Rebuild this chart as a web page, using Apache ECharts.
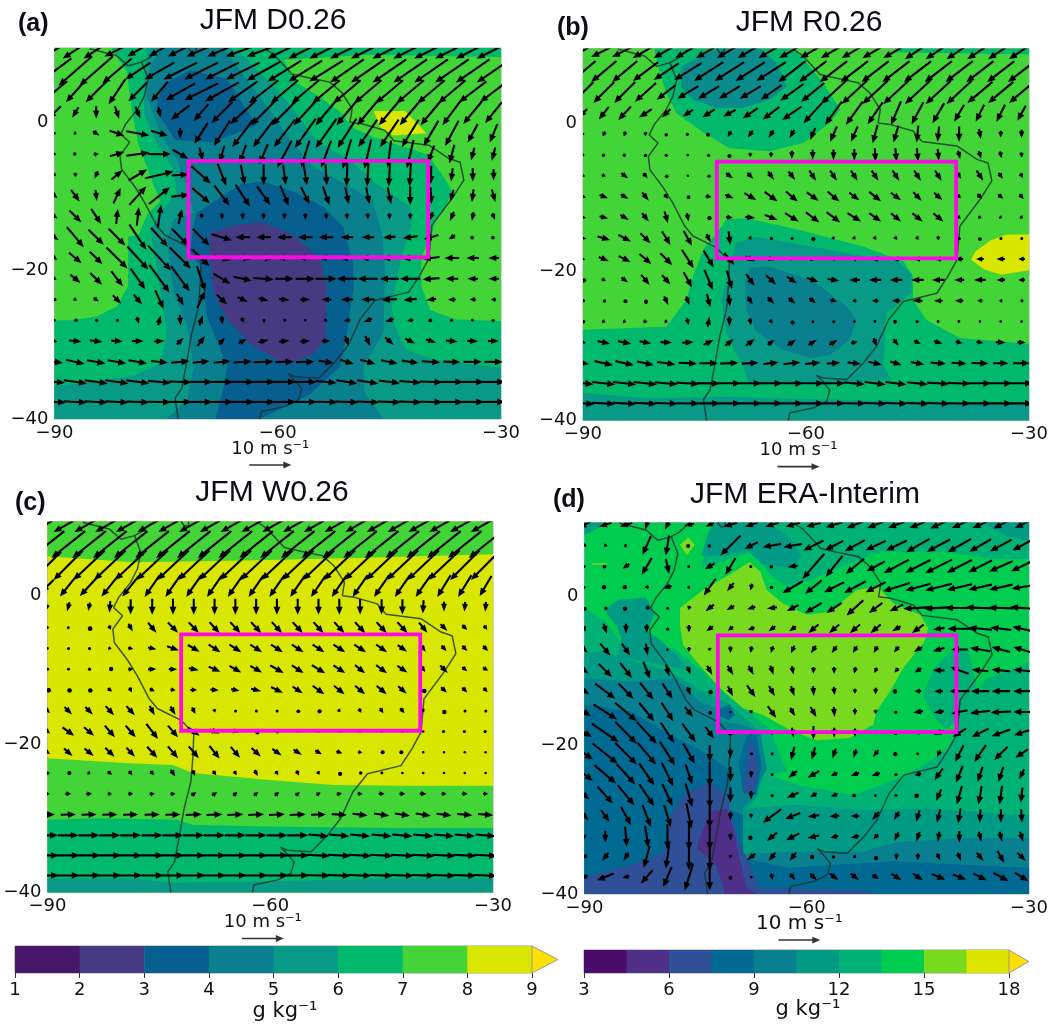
<!DOCTYPE html>
<html><head><meta charset="utf-8">
<style>html,body{margin:0;padding:0;background:#fff}#c{width:1052px;height:1026px;filter:blur(0.5px)}</style>
<script src="https://cdn.jsdelivr.net/npm/echarts@6/dist/echarts.min.js"></script>
</head><body><div id="c"></div>
<script>
// ---- axes / wind grid ----
const windLons=[-90,-87.2,-84.4,-81.6,-78.8,-75.9,-73.1,-70.3,-67.5,-64.7,-61.9,-59.1,-56.3,-53.5,-50.7,-47.9,-45,-42.2,-39.4,-36.6,-33.8,-31];
const windLats=[9.7,6.9,4.1,1.3,-1.5,-4.3,-7.1,-9.9,-12.7,-15.5,-18.3,-21.1,-23.9,-26.7,-29.5,-32.3,-35,-37.7];
const windKeySpeed=10;
const focusBox=[[-72,-5.2],[-39.8,-5.2],[-39.8,-18.2],[-72,-18.2],[-72,-5.2]];
const domain=[[-90,10],[-30,10],[-30,-40],[-90,-40]];
// ---- colorbars ----
const barTicksA=[1,2,3,4,5,6,7,8,9];
const barColorsA=['#47186a','#463a82','#075f90','#0a7f8e','#089a86','#00b96c','#43d437','#d8e600'];
const barTicksB=[3,4.5,6,7.5,9,10.5,12,13.5,15,16.5,18];
const barColorsB=['#4a0c6b','#4f2f88','#2f5096','#006a93','#088090','#009a85','#00b176','#00cc50','#78da1e','#dde400'];
const overColor='#fde000';
// ---- coastline (lon,lat) ----
const coastWest=[[-85.3,9.9],[-83.3,9.4],[-81.7,9],[-80.1,7.6],[-78.3,8.1],[-77.4,5.8],[-77.9,3.6],[-78.8,1.8],[-80.4,-.2],[-81.1,-1.6],[-79.9,-2.7],[-81.2,-4.5],[-81,-6.3],[-79.2,-8.7],[-77.9,-10.8],[-76.3,-13.9],[-75.2,-15.2],[-72,-16.8],[-70.3,-18.6],[-70.4,-21.5],[-70.7,-25.1],[-71.6,-28.7],[-72.3,-32.7],[-72.9,-35.9],[-73.8,-37.2],[-73.4,-39.8],[-73.4,-40]];
const coastEast=[[-62.4,-40],[-62.4,-39.8],[-62.2,-39],[-59,-38.3],[-57.2,-37.4],[-56.8,-35.9],[-57.7,-34.8],[-58.6,-33.9],[-57.7,-34.3],[-54.5,-34.5],[-52.3,-32.3],[-50.5,-30],[-48.9,-26.5],[-46.9,-24],[-42.4,-22.9],[-40.9,-20.6],[-39.7,-18.4],[-39.3,-13.9],[-36.6,-10.3],[-35,-7.8],[-35.5,-5.4],[-37,-4.9],[-39.7,-3.1],[-44.4,-2.5],[-45.6,-1.1],[-48.7,-.2],[-50.3,0],[-50,1.8],[-51.4,4],[-53,5.4],[-55.9,6],[-58.1,6.5],[-60.4,9],[-61.7,9.9]];
const coastNorth=[[-78.3,8.1],[-77.2,8.7],[-76,9.8]];
const coastMaracaibo=[[-72,10],[-71.6,9.4],[-71,9.5],[-71,10]];
// ---- panel (a) contour regions ----
const aBelow7=[[-59.2,8.4],[-57.7,5.5],[-54.5,3.5],[-51.8,1.5],[-49.8,-.8],[-46.9,-2.1],[-42.4,-3.5],[-39.8,-4.4],[-37.5,-7.7],[-36.6,-9.3],[-37.5,-11.6],[-38.9,-13.4],[-39.3,-15.2],[-40.7,-18.1],[-40.7,-22.1],[-39.5,-25.3],[-36,-26.6],[-30,-26.8],[-30,-40],[-90,-40],[-90,-26.7],[-87.9,-26.7],[-84.3,-26.2],[-81.6,-24.8],[-80.1,-22.1],[-80.1,-15.4],[-78.7,-15.2],[-77.6,-12.5],[-75.8,-10.7],[-76.7,-8.4],[-78.7,-3],[-79.6,1.5],[-80.3,6.9],[-82.3,9.8],[-82.3,10],[-30,10],[-30,8.8],[-48,9.1]];
const aBelow6=[[-77.6,10],[-77.6,8.9],[-78,5.3],[-78,1.2],[-76.3,-2.8],[-74,-6.4],[-73.6,-9.5],[-75.8,-12.2],[-77.1,-14.5],[-75.8,-22.6],[-74.9,-28.4],[-75.8,-32.5],[-79.4,-34.2],[-90,-35.6],[-90,-40],[-30,-40],[-30,-33.1],[-39.1,-32],[-42.7,-30.7],[-44,-28],[-44.7,-25.3],[-44.2,-21.9],[-43.1,-17.2],[-41.9,-13.5],[-42.2,-11.4],[-46.9,-8.2],[-50.3,-5.1],[-54.6,-2.7],[-58.3,2.3],[-62.1,6.4],[-64.4,8.8],[-66.4,10]];
const aBelow5=[[-75.5,10],[-77.1,7.8],[-77.6,3.5],[-75.8,-1.5],[-73.6,-5],[-72.2,-8.6],[-71.3,-12.2],[-74,-13.1],[-74.9,-15.8],[-74,-23],[-72.2,-27.5],[-71.3,-32.9],[-72.2,-37.4],[-74.9,-40],[-45.8,-40],[-48.3,-36.5],[-48.5,-32.9],[-45.8,-28.4],[-45.6,-19.9],[-46,-14.9],[-47.3,-10.5],[-51.2,-8.2],[-55.3,-6],[-58.3,-2.4],[-62.1,3],[-65.1,7],[-67.1,10]];
const aBelow4Top=[[-66.8,5.7],[-62.8,-.4],[-68.7,-2.7],[-73.8,-2.4],[-76.2,1.4],[-76.2,3],[-74.9,5.4],[-71.8,7],[-67.3,6]];
const aBelow4Low=[[-70.9,-12.2],[-65,-8.4],[-61.9,-8],[-57.5,-9.5],[-53.9,-11.4],[-51.2,-14.1],[-49.9,-19],[-49.8,-22.1],[-50.7,-28.4],[-51.6,-32.9],[-55.7,-36.7],[-62.4,-40],[-68.4,-40],[-67.3,-36],[-66.8,-32.9],[-69.5,-26.2],[-70.4,-19.4],[-71.8,-17.6],[-71.3,-14]];
const aBelow3=[[-69.1,-14.9],[-65.5,-13.8],[-62.1,-13.5],[-57.9,-15.2],[-54.3,-18.5],[-53.4,-22.1],[-53.6,-28.9],[-55,-31.1],[-58.8,-32.7],[-63.3,-30.2],[-66.8,-26.6],[-68.6,-23],[-69.1,-18.5]];
const aAbove8=[[-47.1,1.5],[-42.9,1.5],[-41.3,-.1],[-40,-1.5],[-44.5,-1.8],[-46.3,-.6]];
// ---- panel (b) contour regions ----
const bBelow7Low=[[-90,-27.8],[-78.8,-27.4],[-76.1,-23.8],[-75.2,-20.6],[-73.8,-17],[-71.6,-14.3],[-70.7,-13],[-68,-12.8],[-61.3,-14.3],[-52.3,-16.6],[-46.9,-18.6],[-45.6,-20.6],[-45.6,-23.8],[-43.8,-26.5],[-39.3,-28.9],[-30,-29.7],[-30,-40],[-90,-40]];
const bBelow7Top=[[-80.4,10],[-79.9,7.6],[-78.8,4],[-77.4,1.3],[-73.8,-1.3],[-70.3,-3.4],[-64.9,-3.8],[-60.4,-2.7],[-56.8,0],[-55.4,1.8],[-57.7,5.4],[-59.9,8.1],[-61.7,10]];
const bBelow7Strip=[[-48,10],[-48,9.5],[-30,9.2],[-30,10]];
const bBelow6Top=[[-72,10],[-76.8,7.6],[-76.8,4.9],[-75.2,3.1],[-72,2],[-68.5,2],[-64.9,3.1],[-62.6,4.9],[-64,8.1],[-65.8,9.6],[-66.2,10]];
const bBelow6Low=[[-71.4,-23.8],[-70.3,-19.3],[-69.4,-16.1],[-66.7,-15.3],[-60.4,-16.4],[-52.3,-17.9],[-47.8,-18.6],[-45.8,-20.2],[-45.8,-22.9],[-49.2,-25.6],[-49.6,-32.7],[-48.5,-34.5],[-52.3,-34.8],[-67.6,-35.2],[-68.5,-32.7],[-70.7,-28.3]];
const bBelow6Strip=[[-90,-36.3],[-81.5,-37],[-70.3,-36.8],[-64.9,-37],[-30,-37.7],[-30,-40],[-90,-40]];
const bBelow5=[[-68.2,-21.5],[-67.6,-19.5],[-64.9,-19.3],[-59,-21.3],[-54.5,-24.7],[-53.2,-26.5],[-54.1,-29.1],[-56.8,-31.2],[-59.5,-31.6],[-63.5,-30.3],[-66.7,-28],[-68,-25.1]];
const bAbove8=[[-30,-15],[-33,-15],[-35.2,-15.8],[-37.2,-17.3],[-37.8,-18.4],[-36,-19.7],[-33.7,-20.4],[-30,-19.8]];
// ---- panel (c) contour regions ----
const cBelow8Top=[[-90,10],[-90,5.3],[-78.5,4.5],[-65,4.7],[-47,5.1],[-30,5.6],[-30,10]];
const cBelow8Low=[[-90,-21.9],[-78.5,-22.6],[-73.1,-22.8],[-70.4,-23.9],[-60.5,-24.8],[-51.5,-25.5],[-42.5,-25.6],[-30,-25.6],[-30,-40],[-90,-40]];
const cBelow7=[[-90,-30.2],[-83,-30],[-72.6,-30.2],[-70.4,-30.9],[-60.5,-31.1],[-42.5,-31.3],[-30,-31.3],[-30,-40],[-90,-40]];
const cBelow6=[[-90,-38.1],[-78.5,-38.1],[-73.1,-38.7],[-60.5,-38.5],[-42.5,-38.1],[-30,-38.1],[-30,-40],[-90,-40]];
// ---- panel (d) contour regions ----
const dMedLow=[[-90,-1.5],[-87.2,-3.3],[-85.2,-6],[-82,-7.4],[-78,-6.9],[-74,-10.1],[-70.8,-13.2],[-68.1,-15.4],[-65,-17.7],[-62.7,-23.5],[-65,-24],[-61.4,-25.3],[-53.7,-26.7],[-50.1,-25.4],[-47.9,-24.5],[-44.3,-22.7],[-41.1,-20.5],[-40,-18.7],[-39.3,-16.4],[-37,-12.8],[-35.7,-11],[-30,-8.8],[-30,-40],[-90,-40]];
const dMedEast=[[-44.3,-13.3],[-42.9,-9.7],[-40.4,-7.2],[-38.2,-7],[-37.7,-9.2],[-37,-12.8],[-37.5,-15.5],[-39.3,-16.4],[-41.1,-17.8],[-42.7,-16.4]];
const dMedTop=[[-74.2,3.9],[-72.8,10],[-30,10],[-30,5.1],[-34.8,5.1],[-41.1,6],[-50.1,6],[-52.4,5.2],[-56.9,3.4],[-60,2.1],[-62.7,1.4],[-65,3],[-66.3,5.2],[-67.4,6.1],[-70.8,5]];
const dTealLow=[[-90,-7.7],[-87.3,-7.3],[-84.2,-8.4],[-78.4,-10.1],[-74.9,-12.3],[-70.4,-14.5],[-66.8,-17.7],[-65.9,-24],[-66.8,-27.1],[-68.1,-28.5],[-61.4,-28],[-52.4,-28.7],[-43.4,-28.5],[-30,-29.4],[-30,-40],[-90,-40]];
const dTealTop=[[-74.2,5.5],[-73.3,8.7],[-72.2,10],[-65,10],[-62.3,7.9],[-60.7,5.6],[-62,3.9],[-65.9,4.3],[-68.1,6.3],[-70.8,5.6]];
const dTealWest=[[-87.3,-1.8],[-85.5,-.4],[-81.7,-.1],[-80.5,-2.1],[-81.5,-4.6],[-79.9,-5.7],[-77.4,-8],[-76,-9.8],[-78.8,-9.3],[-85.5,-8],[-85,-5.7],[-85.7,-3.9]];
const dTealNE=[[-36.2,10],[-30,10],[-30,7.5],[-33,8.2]];
const dTealCorner=[[-90,8.4],[-88,9.3],[-87.7,10],[-90,10]];
const dDeep=[[-90,-11],[-83.8,-11.4],[-77.6,-11],[-74.4,-14.1],[-72.2,-15],[-71.3,-16.8],[-69,-17.2],[-66.3,-18.1],[-65.4,-23.1],[-67.2,-26.7],[-68.6,-28.5],[-68.6,-34.7],[-62.3,-34.3],[-52.4,-34.3],[-47.9,-33],[-38.9,-32.5],[-30,-32.5],[-30,-40],[-90,-40]];
const dBlue=[[-90,-14.5],[-83.8,-15.4],[-77.6,-19],[-73.5,-21.1],[-70.8,-23.1],[-69.9,-26.7],[-70.8,-28.5],[-68.6,-29.4],[-68.6,-35.2],[-62.3,-36.5],[-56.9,-36.1],[-47.9,-35.6],[-30,-36.5],[-30,-40],[-90,-40]];
const dBlueBlobA=[[-71.7,-15],[-70.4,-14.5],[-69.7,-15.9],[-70.6,-16.6],[-71.7,-16.1]];
const dBlueBlobB=[[-69.2,-22.2],[-68.1,-18.6],[-66.8,-18.6],[-66.1,-22.6],[-66.8,-26.7],[-68.6,-26.4]];
const dIndigo=[[-90,-37.7],[-83.8,-36.1],[-79.3,-34.3],[-78.4,-29.4],[-76.7,-26.7],[-73.1,-24.9],[-70.8,-26.7],[-70.4,-28.5],[-69.2,-33],[-68.1,-35.2],[-66.3,-39.2],[-52.4,-39.5],[-51,-40],[-90,-40]];
const dIndigoBlob=[[-68.6,-26.2],[-67.7,-19.3],[-67.2,-19.5],[-66.5,-23.1],[-67.2,-26.2]];
const dPurple=[[-74.9,-33.8],[-73.1,-28.9],[-70.8,-28.5],[-69.9,-31.2],[-69.2,-34.7],[-68.1,-39.2],[-66.8,-40],[-71,-40],[-72.2,-36.1]];
const dLime=[[-77.1,-1.5],[-74,.9],[-70.4,3],[-67.7,4.7],[-66.3,3.4],[-65.4,.9],[-63.2,-.9],[-60,-2.4],[-56.9,-2],[-53.3,.9],[-50.4,1.4],[-48.3,-.9],[-44.7,-2.4],[-43.6,-4.2],[-44.1,-6],[-47,-9.6],[-48.8,-12.8],[-50.6,-15.4],[-51,-17.2],[-54.2,-19],[-58.7,-19.3],[-62.3,-17.9],[-65.9,-15.9],[-68.6,-15],[-71.7,-12.3],[-74.9,-8.7],[-76.7,-6.5],[-77.1,-3.8]];
const dLimeDiamond=[[-77.1,7],[-76,8],[-75.1,7],[-76.2,5.6]];
const dLimeSliver=[[-89,4.5],[-87,4.5],[-87,4.3],[-89,4.3]];
// ---- wind components (m/s), rows north to south, columns west to east ----
const uA=[
[-5,-6,-6,-6,-5,-5,-6,-7,-7,-8,-8,-8,-8,-8,-8,-8,-8,-8,-8,-8,-8,-8],
[-8,-8,-8,-7,-6,-7,-8,-8,-8,-8,-8,-8,-8,-8,-8,-8,-8,-8,-8,-8,-8,-8],
[-6,-4.5,-5,-4,-4.5,-4,-7,-8,-8,-7,-7,-6.5,-6.5,-6.5,-6.5,-6.5,-6.5,-6.5,-6.5,-6.5,-6.5,-6.5],
[-3,-1.5,0,1,1.2,.5,-4.4,-3.5,-5,-6,-6,-6,-5.5,-5,-5,-5,-5,-5,-5,-4.5,-4.5,-4],
[0,.6,1.5,3.5,5.5,4,0,-3.2,-3.8,-5,-5,-5,-5,-5,-4.5,-4.5,-4.4,-4,-3.5,-3.2,-2.4,-1.8],
[0,-.3,1.2,3.4,5.5,5.5,3.7,.8,-1.2,-1.5,-2,-3.5,-2,-2.4,-2,-1.6,-.8,-1.6,-1.5,-1.2,-.8,-.8],
[.6,0,-.8,2.6,4.4,6.7,4,4.6,2,1,0,.6,.8,.3,-.2,-.3,-.3,-.3,-.1,-.4,0,0],
[1.4,2,.3,1.7,4,5,4.4,4.2,3.6,3.4,3.2,2,2,1.6,.8,.8,.8,0,.2,-.8,-.4,.8],
[1.4,2.8,2.4,.4,.5,.8,.8,.3,0,0,0,0,0,0,0,0,0,0,-.8,-1,-.4,.6],
[2,4,3.6,4,4,4,4,4,4.8,-3.5,-3.5,-3.5,-3.5,-3.5,-3,-3,-3,-3.5,-3.5,-1.5,-.3,-.3],
[1.2,3,3,5,5,5.5,5,4,4,4,4.5,-3.5,-3.5,-3.5,-3.5,-3.5,-3.5,-3.8,-4,-3.5,-3,-2.5],
[1,2.4,2.8,2.8,3.5,4.8,4.4,2,4,4.4,4.8,4.4,4.6,5,-4.8,-4.8,-4.5,-4.8,-4,-3,-2.5,-2.5],
[.2,.8,1.2,2,2,2,1.6,1.8,2.4,2.4,2.4,2.4,2.4,-2.4,-3,-3.2,-3.6,-3.2,-2.4,-1.8,-1.5,-1.2],
[0,.3,.2,.2,.5,.6,.2,.8,.2,.7,.2,.1,0,-.3,-1.5,-2,-2,-1.4,-.4,-.2,-.1,-.2],
[1.5,3,3,2.8,2.8,2.4,1.6,1.8,1.4,2,2.4,2.4,2.4,2,.8,1.2,2,2.4,2.4,2.8,2.6,2.6],
[4,4.4,4.4,4.4,4.4,4,4.4,4,4,4.4,4.8,4.4,4.4,3.6,3.2,3.6,4,4,4.4,4,4.4,4.4],
[5,5.5,5.5,5.5,5.5,5.5,5.5,5.5,5.5,5.5,5.5,5.5,5.5,5,5,5,5,5.2,5.5,5.5,5.5,5.5],
[5.5,5.5,5.5,5.5,5.5,5.5,5.5,5.5,5.5,5.5,5.5,5.5,5.5,5.5,5.5,5.5,5.5,5.5,5.5,5.5,5.5,5.5]];
const vA=[
[-3,-4,-4,-3,-3,-3,-3,-3,-3,-3,-3,-4,-4,-4,-4,-4,-4,-4,-4,-4,-4,-4],
[-6,-7,-7,-6,-4,-4,-4,-4,-4,-4,-4.5,-5,-5,-5,-5.5,-5.5,-5.5,-5.5,-5.5,-5.5,-5.5,-5.5],
[-5,-5,-5,-6,-4.5,-4.8,-4,-4,-4.5,-5,-5.5,-5.5,-5.5,-5.5,-5.5,-5.5,-5.5,-5.5,-5.5,-5.5,-5,-5],
[-3,-2.5,-3,-3,-2.8,-2.5,-3.4,-4,-5,-5.5,-6,-6,-6,-6,-6,-6,-6,-6,-6,-6,-5.5,-5],
[0,-.4,-1,-1.2,-1,-1.2,-2.6,-5,-6,-6.5,-6.5,-6.5,-7,-7,-7,-6.5,-6.5,-6.5,-6,-6,-4.4,-4.4],
[0,0,.2,1,.8,0,-2.2,-3.2,-4,-4.4,-4.8,-6.5,-6.4,-6.4,-7,-7,-6.4,-6.7,-4,-4.4,-3,-3.2],
[-.6,-1,-1.7,2.2,2.6,1.6,.3,-4.1,-5.2,-4.8,-5,-4.8,-5,-5,-5.5,-5.5,-5.5,-5.5,-4.4,-3.2,-3.2,-2.8],
[-1.2,-2.8,-2.6,3.7,4.4,4,.5,-3.6,-4.8,-5.2,-4.4,-4.8,-4,-4.4,-4,-4,-4,-4.4,-4,-2.8,-3,-3],
[-1,-2.8,-3.6,3.6,4.4,5.6,3.6,.4,-1.5,-1.5,-1.5,-1.5,-1.5,-1.5,-1.5,-1.5,-1.5,-1.5,-2,-2.2,-2,-1.6],
[-1.5,-4.8,-3.6,-4,-6,-4.5,-4,-4,-1.4,0,0,0,0,0,0,0,-.3,-.5,-1,-1,-.2,-.2],
[-1,-2.5,-3,-5,-5.5,-6,-5,-4,-1.2,-.5,-.3,0,0,0,0,0,-.2,-.3,-.5,0,0,0],
[-.5,-2,-2.8,-3.6,-5,-6.6,-6,-6,-2.4,-1,-.4,0,0,0,0,0,0,0,-.3,0,0,0],
[0,-.4,-.8,-2,-2.4,-4.4,-2.8,4,-2.4,-1.2,-.6,-.2,0,0,0,0,-.2,-.3,-.3,0,0,0],
[0,0,0,0,-1.6,2.4,-2.6,2.4,-2,-1.2,-.2,0,0,0,-.3,-.8,-.6,-.2,0,0,0,0],
[-.3,-.3,-.4,-.2,0,.2,1.6,2.4,1.6,1,.6,.3,.2,0,-2.4,-2.4,-1.8,-1.2,-.8,-.3,-.1,0],
[-.5,-1,-.8,-.8,-.8,-.4,.4,.4,.4,.3,.2,.1,.1,-.5,-1,-1,-.8,-.6,-.3,-.1,0,0],
[-.4,-.8,-.8,-.8,-.8,-.5,-.2,0,0,0,0,0,0,-.5,-.8,-.8,-.6,-.4,-.2,0,0,0],
[-.3,-.3,-.3,-.3,-.2,-.1,0,0,0,0,0,0,0,-.1,-.2,-.2,-.2,-.2,-.1,0,0,0]];
const uB=[
[-5,-6,-6,-6,-6,-6,-6,-6,-6,-6,-6,-6,-6,-6,-6,-6,-6,-6,-6,-6,-6,-6],
[-6,-6,-6,-6,-6,-6.5,-7,-7,-7,-7,-6.5,-6.5,-6.5,-6.5,-6.5,-6.5,-6.5,-6.5,-6.5,-6.5,-6.5,-6.5],
[-5,-5,-5,-5,-4.5,-5,-5,-5,-5,-5,-5.5,-5.5,-6,-6,-6,-6,-6,-6,-6,-6,-6,-6],
[-2,-2.4,-3,-3,-2,-2.4,-3,-3,-3.6,-4,-4.6,-4.4,-4,-4,-3.6,-2.4,-2.8,-2.8,-2.4,-2,-2,-2],
[0,-.6,-.4,0,0,-.2,-.3,-.8,-1.2,-1.2,-1.2,-1.2,-1.6,-1.6,-1.2,-1.2,-.4,-.4,0,.4,0,0],
[0,-.2,-.2,0,0,0,0,0,0,0,0,0,0,0,.2,.3,.3,.3,.5,.6,.4,.2],
[1,1,1.6,1,.2,0,.2,1.6,1.4,1.4,1.6,1.6,1.6,1.6,1.6,1.6,1.6,1.6,1,1.6,1,.6],
[1.5,2,1.8,1.6,.8,.3,1.4,2,2.8,3,2.8,2.8,2.8,2.4,2.8,2.4,2,2,.8,1.2,1.2,1],
[1.4,2,2,1.6,.8,.4,.4,1.6,2.4,3,3.2,3.2,3.2,3.2,2.8,2.4,2.4,2.4,.8,.8,.6,.6],
[1.6,3,3,2.4,2,2,1,.4,.4,.2,.1,.3,.5,.6,.6,.6,.5,.2,.1,0,.1,.1],
[1,2.4,2.8,2.8,2.8,2.8,2.4,2.4,2.4,2,.8,-.5,-1,-1.4,-2,-2,-2,-2,-2,-1.8,-2,-1.6],
[.5,1,1.6,2,2,2,2,1.2,2,2.4,2.4,2.8,2.8,-2.6,-3,-3,-3,-3,-2.4,-2.8,-2,-1.6],
[.2,.3,.4,.3,1,.8,.8,.2,1.2,1.6,1.6,1.6,1.6,-1,-1.6,-2,-2.4,-2,-2,-1.2,-.8,-.8],
[.3,.8,.8,1,.8,.4,.4,0,.4,.5,.3,.1,.1,0,-.1,-.4,-.2,-.1,-.1,0,0,0],
[1.5,3,3.2,2.8,2.8,2.8,2.4,2,2.2,1.6,2,2,2,1.6,.8,1.2,1.6,2,1.6,1.6,2.4,2],
[3,4.4,4.4,4,4.4,4.4,4.4,4.4,4,3.6,4,3.6,3.2,3.2,3.2,2.8,3.2,3.6,3.6,4,3.6,4],
[5,5.5,5.5,5.5,5.5,5.5,5.5,5.5,5.5,5.5,5.5,5.5,5.5,5,5,5,5,5.2,5.5,5.5,5.5,5.5],
[5.5,5.5,5.5,5.5,5.5,5.5,5.5,5.5,5.5,5.5,5.5,5.5,5.5,5.5,5.5,5.5,5.5,5.5,5.5,5.5,5.5,5.5]];
const vB=[
[-3,-3,-3,-3.5,-3.5,-3.5,-3.5,-3.5,-3.5,-3.5,-3.5,-3.5,-3.5,-3.5,-3.5,-3.5,-4,-4,-4,-4,-4,-4],
[-5,-5,-5,-4.5,-4,-4,-4.5,-4.5,-4.5,-4.5,-5,-5,-5,-5,-5,-5,-5,-5,-5,-5,-5,-5],
[-5,-5,-5,-4.5,-3.5,-3,-3,-3,-3,-3.5,-4,-4.5,-5.5,-5.5,-5.5,-5.5,-5.5,-5.5,-5.5,-5,-5,-5],
[-2,-3,-3.2,-2,-2,-1.6,-2,-1.6,-2.4,-3,-3.2,-4.8,-5.5,-5.5,-5.2,-5.6,-5.2,-4.8,-4,-4,-4,-3.6],
[0,-1.2,-1.2,-1,-.3,-.1,-.3,-1.4,-1.6,-1.8,-2,-2.8,-3.6,-3.6,-4.4,-4,-4,-3.6,-3.6,-2.5,-1.6,-2],
[0,-.2,-.2,-.3,-.2,-.1,-.2,-.5,-1,-1.2,-2,-2.4,-2.6,-2.8,-3.2,-3.2,-3.2,-2.8,-2,-1.8,-1.6,-1.2],
[-.3,-.3,-1.2,-1.2,-.3,0,-.2,-1.2,-1.4,-2,-2,-2.4,-2.4,-2.4,-2.4,-2.4,-2.4,-2.4,-1.6,-2.4,-1.4,-1.2],
[-.4,-.8,-1,-2,-1.2,-.3,-.2,-.8,-1.6,-2.2,-2.4,-2,-2.4,-1.8,-2.2,-1.8,-2,-1.8,-.8,-1.2,-1,-1.2],
[-.3,-.5,-1.2,-2,-2.8,-2,-.4,-.2,-.3,-1.2,-2,-2.4,-2.4,-2,-2,-2,-2,-2,-.5,-.3,-.4,-.5],
[-.3,-.8,-1.6,-2.4,-3.2,-3.6,-2,-3.2,-.8,-.1,-.1,-.5,-.6,-.6,-.7,-.8,-.8,-1,-.1,-.4,-.1,-.1],
[-.3,-1,-1.4,-2.4,-2.8,-4.4,-4,-2.8,-1.2,-.6,-.3,0,0,0,0,0,0,0,0,0,0,0],
[-.2,-.5,-1.1,-2.4,-2.2,-3.6,-4.8,-4.4,-2.8,-2.2,-1.6,-1,-.4,0,0,0,0,0,0,0,0,0],
[0,-.1,-.2,-.5,-2,-2,-3.2,-2.8,-1.8,-1.6,-1.4,-1.2,-.5,0,0,0,0,0,0,0,0,0],
[-.1,-.3,-.2,-.1,-.2,-1.6,2.4,-2.4,-1.6,-1,-.5,-.1,-.1,0,0,-.1,0,0,0,0,0,0],
[-.3,-.6,-.6,-.5,-.1,.2,1.2,1.6,1.6,1.2,1.4,1.2,1.2,.3,-2,-1.6,-.8,-.6,-.4,-.3,-.1,0],
[-.5,-1,-1,-.8,-.6,-.2,0,.2,.2,.4,.5,.4,.2,-.4,-.7,-.8,-.6,-.3,-.2,-.1,0,0],
[-.4,-.6,-.6,-.6,-.5,-.3,-.1,0,0,0,0,0,0,-.4,-.6,-.6,-.5,-.3,-.2,0,0,0],
[-.3,-.3,-.3,-.3,-.2,-.1,0,0,0,0,0,0,0,-.1,-.2,-.2,-.2,-.2,-.1,0,0,0]];
const uC=[
[-6,-7,-7,-7,-7,-7,-7,-7,-7,-7,-7,-7,-7,-7,-7,-7,-7,-7,-7,-7,-7,-7],
[-8,-8,-8,-8,-8,-8,-8,-8,-8,-8,-8,-8,-8,-8,-8,-8,-8,-8,-8,-8,-8,-8],
[-6.5,-7,-7.5,-7.5,-7.5,-7.5,-7.5,-7.5,-7.5,-7.5,-7.5,-7.5,-7.5,-7.5,-7.5,-7.5,-7.5,-7.5,-7.5,-7.5,-7,-7],
[-3,-4,-4.4,-4,-4,-3.6,-3.6,-3.6,-3.6,-3.6,-3.6,-3.6,-3.6,-3.6,-3.6,-3.6,-3.6,-3.6,-3.6,-3.2,-3.2,-2.8],
[0,-.6,-.4,-.2,0,0,0,0,0,0,0,0,0,0,0,0,0,0,-.2,0,-.2,-.2],
[0,0,.5,.5,1,2,2.4,2.4,2.4,2.4,2.4,2.4,2.4,2.4,2.4,2.4,2.4,2.4,2,1.6,1.2,.8],
[0,.1,.2,.8,1.2,2,2.8,2.8,2.8,2.8,2.8,2.8,2.8,2.8,2.8,2.8,2.6,2.2,1.2,1.2,1.2,1.2],
[.1,.1,.2,.6,1.2,2,2,2.4,2.8,2.8,2.8,3.2,2.8,3.2,2.8,2.4,2.6,2.4,1,1.8,1.2,1.2],
[.6,.6,.6,1,.6,1.2,1.2,1.6,2,2,2.4,2.8,2.4,2.8,2.5,2.4,2.4,2,.5,1.4,1.2,1],
[1.2,1.8,1.8,2,2,1.2,1.2,.8,.3,.1,.1,.1,.3,.5,.6,.6,.8,1,.5,.2,.1,.1],
[1.2,2.8,2.4,2.4,2.4,2.8,2.4,2.8,2.4,1.6,.6,.3,0,0,0,0,0,0,0,-.2,-.2,-.2],
[1.2,2,2.2,2.2,2,2.4,2.4,2.4,2.4,2.2,2.2,2.2,2,1.6,1.4,1,.5,-.5,0,0,0,0],
[.2,.5,.7,1,.8,.8,1,.6,.8,.6,.8,.6,.6,.5,.4,.3,.1,0,0,0,0,0],
[1,1.4,1.4,1,1.2,1.2,1.2,1.2,1.2,1,1,1,1,1,1.2,1.2,1.4,1.4,1.6,1.2,1.4,1.2],
[3.6,3.6,3.6,3.6,3.6,3.6,3.6,3.8,3.8,3.8,3.8,3.8,3.8,3.6,3.6,3.6,3.6,3.6,3.6,3.6,3.6,3.6],
[5,5,5,5,5,5,5,5,5,5,5,5,5,4.8,4.8,4.8,4.8,4.8,4.8,4.8,4.8,4.8],
[5.5,5.5,5.5,5.5,5.5,5.5,5.5,5.5,5.5,5.5,5.5,5.5,5.5,5.5,5.5,5.5,5.5,5.5,5.5,5.5,5.5,5.5],
[5.5,5.5,5.5,5.5,5.5,5.5,5.5,5.5,5.5,5.5,5.5,5.5,5.5,5.5,5.5,5.5,5.5,5.5,5.5,5.5,5.5,5.5]];
const vC=[
[-4,-4,-4,-4,-4,-4,-4,-4,-4,-4,-4,-4,-4,-4,-4,-4,-4,-4,-4,-4,-4,-4],
[-6.4,-6.4,-6.4,-6.4,-6.4,-6.4,-6.4,-6.4,-6.4,-6.4,-6.4,-6.4,-6.4,-6.4,-6.4,-6.4,-6.4,-6.4,-6.4,-6.4,-6.4,-6.4],
[-6.5,-7,-7,-7,-7,-7,-7,-7,-7,-7,-7,-7,-7,-7,-7,-7,-7,-7,-7,-7,-7,-7],
[-3,-5,-4.8,-5,-5,-5.2,-5.2,-5.2,-5.2,-5.2,-5.2,-5.2,-5.2,-5.2,-5.2,-5.2,-5.2,-5.2,-5.2,-5.2,-5.2,-4.8],
[-1,-2.2,-2,-2.8,-3.6,-3.8,-3.8,-3.8,-3.8,-3.8,-3.8,-3.8,-3.8,-3.8,-3.8,-3.6,-3.6,-3.6,-3.2,-2.4,-2.4,-2.4],
[0,-.1,-.5,-1,-1.8,-2.4,-2.4,-2.5,-2.6,-2.6,-2.6,-2.6,-2.6,-2.6,-2.6,-2.6,-2.6,-2.6,-2.4,-1.6,-1.2,-1],
[0,-.1,-.1,-.2,-.3,-.4,-1,-1.6,-1.8,-1.8,-1.8,-1.8,-1.8,-1.8,-1.8,-1.8,-1.8,-1.6,-1.6,-1.4,-1.2,-1.2],
[0,0,0,.1,.2,.1,0,-.5,-1.2,-1.6,-1.6,-1.8,-1.8,-1.9,-1.8,-1.9,-1.9,-1.6,-1.4,-1.8,-1,-.8],
[-.2,-.3,-.3,-.8,-1.2,-.6,-.2,0,-.2,-.4,-.6,-1.4,-1.6,-2,-2,-2,-2,-1.8,-.5,-1.3,-1.2,-1],
[-1.2,-1.8,-1.8,-2.2,-2.2,-2.2,-2,-1.6,-.8,-.1,-.1,-.1,-.3,-.3,-.6,-1,-1.2,-1.2,-.8,-.6,-.1,-.1],
[-1,-2,-2,-2.8,-2.8,-3.6,-2.8,-2,-1,-.5,-.3,-.1,0,0,0,0,0,0,0,0,0,0],
[-.8,-1.8,-1.8,-2.2,-2.2,-2.6,-2.8,-2.8,-3,-2.6,-2,-1.6,-1.3,-.9,-.5,-.2,0,0,0,0,0,0],
[0,0,-.3,-.8,-1,-1,-1.6,-1.4,-1,-1,-1.4,-1,-1.2,-.8,-.4,0,0,0,0,0,0,0],
[0,0,.1,0,0,.2,.2,.8,.8,.9,.9,.9,.8,.6,.3,0,0,0,-.1,0,0,0],
[0,.1,.1,.1,.1,.1,.1,.2,.2,.2,.2,.2,.2,.1,-.2,-.4,-.5,-.5,-.5,-.4,-.3,-.3],
[0,0,0,0,0,0,0,0,0,0,0,0,0,-.4,-.4,-.4,-.4,-.4,-.4,-.4,-.4,-.4],
[0,0,0,0,0,0,0,0,0,0,0,0,0,-.3,-.3,-.3,-.3,-.3,-.3,-.3,-.3,-.3],
[0,0,0,0,0,0,0,0,0,0,0,0,0,-.1,-.2,-.2,-.2,-.2,-.2,-.2,-.2,-.2]];
const uD=[
[-3,-3,-3,-.8,-1.2,-2.4,-2,-3.2,-3,-3.2,-3.4,-3.6,-4,-4,-4,-4,-4,-4,-3.6,-3.6,-3.6,-3.2],
[-.8,-.6,-.2,-2,-.8,-.4,-.2,-4.8,-3.2,-4.4,-4.4,-4.8,-4.4,-4.8,-4.8,-5,-5.6,-5.6,-5.6,-5.2,-5.2,-4.4],
[-.2,-.4,-1.6,-2.4,.8,-.1,-2.4,-2.4,-.2,-.3,-2.4,-5.2,-4,-4.4,-4.4,-6,-6,-6.4,-6,-5.6,-5.6,-5],
[-.2,-.6,-.6,-1,-2,-.1,-2.8,-1.6,-.4,-.2,-4.8,-4,-4.8,-5.2,-4.8,-6.4,-6,-6.4,-6,-5.6,-5.6,-4.8],
[.2,.3,-.5,.5,.1,-.4,-2,-1.8,-2,-2.4,-2.8,-4,-3.6,-4,-3.2,-3.2,-7,-7,-7,-7,-6,-5.6],
[.6,.8,0,0,.1,0,-1.6,-1.2,-1.6,-1.6,-1.6,-2.4,-2.4,-2.4,-2.4,-2,-2.8,-2.8,-5.6,-5.6,-5,-4.4],
[1.6,2.4,2,.4,0,0,.2,0,-.3,-.5,-.8,-1.2,-1.2,-1,-1,-1.2,-2,-2.8,-4,-4.8,-4.4,-4],
[2,3.2,2.8,1.6,.8,.8,1.2,1.4,1.2,.8,.4,0,0,-.4,-.6,-1,-1.6,-2.8,-4.4,-4,-4.4,-4],
[2.4,4.8,3.6,3.2,2.4,.8,.4,1.2,2,1.4,.8,.2,.2,0,0,-.6,-1.6,-2,-4.8,-4.4,-4.4,-4],
[3,5.6,5.2,3.6,2.8,2,.2,0,.4,2,1.2,1.4,.2,0,0,-.3,-2.4,-2.4,-4,-4.8,-4.8,-4],
[3.6,6.4,5.2,4.8,3.2,3.2,2,0,.1,.1,.4,0,0,0,-.2,-.4,-1,-2.4,-3.2,-4,-4.4,-3.6],
[4,6,5.2,4.4,3.6,2.8,0,0,.1,.1,-.8,-.8,-.8,-.6,-1.2,-.5,-.1,-.8,-2,-2.8,-3.2,-3],
[4,5.2,4.4,3.6,2.8,1.6,0,0,0,.1,-2,-2.8,-1.6,-2,-2,-.2,-1.6,-2,-1.6,-1.2,-1.2,-1.2],
[2.4,3.6,4,3.6,2.4,1.6,0,0,0,.1,-2.8,-1.6,-1.6,-.4,-.1,-.2,-.6,-1.2,-1.2,-.8,-.6,-.4],
[2,2,2.4,2,1.6,1.2,0,0,0,-4.4,-3.6,-2.8,-2.4,-2,-1.6,-1.2,-.8,-.8,-.6,-.2,0,.2],
[0,0,.4,.8,0,0,0,0,-.4,-2.4,-3.2,-2.8,-2,-2,-1.2,-1,-.8,-.4,0,.6,.6,.8],
[-1,-1.6,-1.2,-1.4,-.8,0,0,0,-2,-1.6,-1.6,-.6,-.3,.6,.2,0,0,.8,.8,1.6,1.6,2],
[-1.6,-4,-1.6,-2.8,-2,-2,0,0,0,.4,1.2,1.6,2,2,1.6,2.4,2.4,3.2,3.2,3.2,3.6,3.2]];
const vD=[
[-1.5,-1,-1,-2.4,-2.4,-.5,-.8,-1,-1,-1,-1,-1,-1.2,-1.5,-1.5,-1.4,-1.6,-1.8,-1.6,-1.6,-1.8,-1.6],
[-.4,-.5,-.1,-4.4,-4.8,-.2,-.2,-4.8,-1.6,-.8,-.8,-2.4,-2.2,-2.6,-2.2,-2.4,-3.2,-3,-3.2,-3,-2.8,-2.4],
[-.1,-.1,-1.2,-4,-3.6,-.1,-1.4,-4,-.1,-.2,-.3,-6,-5,-3.6,-2.4,-3.2,-3,-3.2,-3,-2.8,-2.5,-2.4],
[-.1,0,0,-.1,-.5,-.1,-4,-2,-1.6,-.2,-2.8,-3.2,-2.4,-2.8,-2.4,-2,-1.6,-1.6,-1.4,-1.2,-1.2,-.8],
[-.4,-.1,-.4,.1,-.1,-1,-1.6,-1,-.6,-.3,-1.4,-2.4,-2.4,-3.6,-2.4,-1.6,-.4,-.4,0,.3,.2,.4],
[-1.4,-2.4,-2.4,-2,-.2,-1.8,-1.2,-1,-.6,-1.2,-1.2,-2,-2,-2,-2,-1.2,-2,-.4,0,.5,.6,1],
[-1.6,-2.8,-2.8,-2.8,-.1,-1.2,-.8,-1.6,-1.6,-1.6,-1.8,-1.8,-1.6,-1.6,-1.6,-1.4,-1.2,-.8,0,.8,1.2,1.2],
[-1.6,-3.2,-3.6,-4,-2.8,-1.8,-2.2,-2.2,-2.2,-2.2,-2,-1.6,-1.6,-1.6,-1.2,-1,-1,0,1.6,.4,.4,.4],
[-1.6,-3.6,-3.6,-4,-3.6,-2,-.5,-2.4,-2.8,-2.4,-2.4,-2.4,-2,-1.2,-1.6,-.2,0,0,0,0,0,0],
[-2,-3.6,-4.4,-4.4,-4.4,-2.4,-.4,-.1,-.8,-2.8,-2,-2.4,-2.4,-1.6,-1,-.1,-.4,-.4,-.8,-.6,-.2,0],
[-2,-4.4,-5.2,-5.2,-4.8,-4.4,-2.8,-.5,-.1,-.1,-2.4,-3.2,-2.4,-2,-.8,-.1,-.2,-1,-2,-2,-1.6,-1.2],
[-2.8,-4.8,-5.2,-5.2,-5.6,-4.8,-4,-2.4,-.1,-.1,-3.2,-3,-2.4,-2,-1.6,-.3,-.1,-1.6,-4,-4,-3.2,-2],
[-3,-4.4,-4.8,-5.2,-5.6,-4.8,-6,-3.6,-1.6,-.1,-1.6,-1.6,-.8,-.8,-.6,-.1,-.4,-2.8,-4,-3.6,-3.6,-2.4],
[-2,-4,-4.8,-5.2,-5.2,-5.6,-6.4,-3.6,-2,-.2,-1.2,-1,-.6,-.1,-.1,-.1,-.3,-2.8,-4.4,-4.4,-4.4,-3.6],
[-2,-2.8,-4.4,-5.2,-5.2,-6,-6,-2,-1.2,-3.2,-1.4,-.4,-.2,0,-2,-2,-2.8,-3.2,-3.6,-3.2,-3.2,-3.2],
[-1,-2.8,-4.8,-5.2,-6,-6.4,-6.4,-1.6,-.5,-2,-1.6,-.6,-.4,-.4,-1.2,-2,-2.2,-2.4,-2.8,-2.4,-2.4,-2.4],
[-1,-2,-2,-5.2,-5.6,-6.4,-6.8,-.8,-1.6,-2,-2,-.1,-.1,-.6,-.6,-1.6,-1.6,-1.6,-2,-2,-2.8,-2],
[-.5,-1.6,-.4,-3.2,-4.8,-6.4,-6.4,-.4,-.1,-1.6,-1.6,-1.6,-1.6,-1.6,-1,-1.6,-1.6,-1.4,-1.2,-1.6,-2,-2]];

const C={v2:'#47186a',v3:'#463a82',v4:'#075f90',v5:'#0a7f8e',v6:'#089a86',v7:'#00b96c',v8:'#43d437',v9:'#d8e600',t:'#0a8c8c'};
const D={a:'#4f2f88',b:'#2f5096',c:'#006a93',d:'#088090',e:'#009a85',f:'#00b176',g:'#00cc50',h:'#78da1e'};
const panels=[
 {left:54.5,top:48,width:446.5,height:371,u:uA,v:vA,title:'JFM D0.26',tx:273,ty:21,tag:'(a)',lx:18,ly:24,keyLon:-61,keyFont:18,
  layers:[[domain,C.v8],[aBelow7,C.v7],[aBelow6,C.v6],[aBelow5,C.v5],[aBelow4Top,C.v4],[aBelow4Low,C.v4],[aBelow3,C.v3],[aAbove8,C.v9]]},
 {left:583,top:48.5,width:446,height:372,u:uB,v:vB,title:'JFM R0.26',tx:809,ty:23,tag:'(b)',lx:557,ly:28,keyLon:-61,keyFont:18,
  layers:[[domain,C.v8],[bBelow7Low,C.v7],[bBelow7Top,C.v7],[bBelow7Strip,C.v7],[bBelow6Top,C.t],[bBelow6Low,C.v6],[bBelow6Strip,C.v6],[bBelow5,C.v5],[bAbove8,C.v9]]},
 {left:47.5,top:521.5,width:445.5,height:371,u:uC,v:vC,title:'JFM W0.26',tx:272,ty:493,tag:'(c)',lx:15,ly:503,keyLon:-61,keyFont:18,
  layers:[[domain,C.v9],[cBelow8Top,C.v8],[cBelow8Low,C.v8],[cBelow7,C.v7],[cBelow6,C.v6]]},
 {left:584.5,top:522.5,width:444.5,height:371.5,u:uD,v:vD,title:'JFM ERA-Interim',tx:805,ty:495,tag:'(d)',lx:553,ly:500,keyLon:-61,keyFont:20,
  layers:[[domain,D.g],[dMedLow,D.f],[dMedEast,D.f],[dMedTop,D.f],[dTealLow,D.e],[dTealTop,D.e],[dTealWest,D.e],[dTealNE,D.e],[dTealCorner,D.e],[dDeep,D.d],[dBlue,D.c],[dBlueBlobA,D.c],[dBlueBlobB,D.c],[dIndigo,D.b],[dIndigoBlob,D.b],[dPurple,D.a],[dLime,D.h],[dLimeDiamond,D.h],[dLimeSliver,D.h]]}
];

const SCALE=0.565; // degrees of arrow per m/s on the plot
const tickFont={fontFamily:'DejaVu Sans',fontSize:18,color:'#111'};
const minus=v=>String(v).replace('-','\u2212');
const grid=[],xAxis=[],yAxis=[],series=[],graphic=[];

function arrowShape(api,lon,lat,u,v,color,lw){
  const a=api.coord([lon-u*SCALE/2,lat-v*SCALE/2]),b=api.coord([lon+u*SCALE/2,lat+v*SCALE/2]);
  const dx=b[0]-a[0],dy=b[1]-a[1],L=Math.hypot(dx,dy);
  if(L<3){const c=api.coord([lon,lat]);return {type:'circle',shape:{cx:c[0]+dx/2,cy:c[1]+dy/2,r:1.3+L*.35},style:{fill:color}};}
  const ux=dx/L,uy=dy/L,h=Math.min(8,L*.8),w=Math.min(3.4,1.9+L*.1);
  const bx=b[0]-ux*h,by=b[1]-uy*h;
  return {type:'group',children:[
    {type:'line',shape:{x1:a[0],y1:a[1],x2:bx+ux,y2:by+uy},style:{stroke:color,lineWidth:lw}},
    {type:'polygon',shape:{points:[[b[0],b[1]],[bx-uy*w,by+ux*w],[bx+uy*w,by-ux*w]]},style:{fill:color}}
  ]};
}

panels.forEach((p,i)=>{
  grid.push({left:p.left,top:p.top,width:p.width,height:p.height,show:true,borderColor:'#a8a8a8',borderWidth:1,backgroundColor:'transparent'});
  xAxis.push({type:'value',gridIndex:i,min:-90,max:-30,interval:30,splitLine:{show:false},axisLine:{show:false},axisTick:{show:false},
    axisLabel:Object.assign({margin:5,formatter:minus},tickFont)});
  yAxis.push({type:'value',gridIndex:i,min:-40,max:10,interval:20,splitLine:{show:false},axisLine:{show:false},axisTick:{show:false},
    axisLabel:Object.assign({margin:6,padding:[5,0,0,0],formatter:v=>v===10?'':minus(v)},tickFont)});
  const layers=p.layers;
  series.push({type:'custom',xAxisIndex:i,yAxisIndex:i,clip:true,silent:true,z:1,data:layers.map((l,k)=>[k]),
    encode:{x:[],y:[]},
    renderItem:(params,api)=>{const l=layers[params.dataIndex];
      return {type:'polygon',shape:{points:l[0].map(q=>api.coord(q))},style:{fill:l[1]}};}});
  const wind=[];
  windLats.forEach((la,r)=>windLons.forEach((lo,c)=>wind.push([lo,la,p.u[r][c],p.v[r][c]])));
  [coastWest,coastEast,coastNorth,coastMaracaibo].forEach(line=>series.push({type:'line',xAxisIndex:i,yAxisIndex:i,data:line,showSymbol:false,silent:true,clip:true,z:2,
    lineStyle:{color:'rgba(25,50,45,.8)',width:1.5}}));
  series.push({type:'custom',xAxisIndex:i,yAxisIndex:i,clip:true,silent:true,z:3,data:wind,encode:{x:0,y:1},
    renderItem:(params,api)=>arrowShape(api,api.value(0),api.value(1),api.value(2),api.value(3),'#000',2.1)});
  series.push({type:'line',xAxisIndex:i,yAxisIndex:i,data:focusBox,showSymbol:false,silent:true,clip:false,z:4,
    lineStyle:{color:'#ff08e8',width:3.8,cap:'square',join:'miter'}});
  series.push({type:'custom',xAxisIndex:i,yAxisIndex:i,clip:false,silent:true,z:3,data:[[p.keyLon,-46.2,windKeySpeed,0]],encode:{x:0,y:1},
    renderItem:(params,api)=>arrowShape(api,api.value(0),api.value(1),api.value(2),api.value(3),'#333',1.6)});
  graphic.push({type:'text',x:p.tx,y:p.ty,style:{text:p.title,font:'30px "Liberation Sans"',fill:'#0c0c14',textAlign:'center',textVerticalAlign:'middle'}});
  graphic.push({type:'text',x:p.lx,y:p.ly,style:{text:p.tag,font:'bold 25px "Liberation Sans"',fill:'#0c0c14',textAlign:'left',textVerticalAlign:'middle'}});
  const keyX=p.left+p.width*(p.keyLon+90)/60;
  graphic.push({type:'text',x:keyX,y:p.top+p.height+30,style:{text:'10 m s\u207b\u00b9',font:p.keyFont+'px "DejaVu Sans"',fill:'#111',textAlign:'center',textVerticalAlign:'middle'}});
});

function colorbar(gi,left,top,width,height,ticks,colors,interval,overWidth,labelX,labelY){
  grid.push({left,top,width,height,show:true,borderColor:'#9a9a9a',borderWidth:1});
  const lo=ticks[0],hi=ticks[ticks.length-1];
  xAxis.push({type:'value',gridIndex:gi,min:lo,max:hi,interval,splitLine:{show:false},axisLine:{show:false},
    axisTick:{show:true,length:5,lineStyle:{color:'#333'}},axisLabel:{margin:8,fontFamily:'DejaVu Sans',fontSize:18,color:'#111'}});
  yAxis.push({type:'value',gridIndex:gi,min:0,max:1,show:false});
  const cells=colors.map((c,k)=>[ticks[k],ticks[k+1],k]);
  series.push({type:'custom',xAxisIndex:gi,yAxisIndex:gi,clip:false,silent:true,data:cells,encode:{x:[0,1]},
    renderItem:(params,api)=>{const a=api.coord([api.value(0),0]),b=api.coord([api.value(1),1]);
      return {type:'rect',shape:{x:a[0],y:b[1],width:b[0]-a[0]+.5,height:a[1]-b[1]},style:{fill:colors[api.value(2)]}};}});
  series.push({type:'custom',xAxisIndex:gi,yAxisIndex:gi,clip:false,silent:true,data:[[hi,hi+overWidth]],encode:{x:[0,1]},
    renderItem:(params,api)=>({type:'polygon',shape:{points:[api.coord([api.value(0),0]),api.coord([api.value(1),.5]),api.coord([api.value(0),1])]},
      style:{fill:overColor,stroke:'#9a9a9a',lineWidth:1}})});
  graphic.push({type:'text',x:labelX,y:labelY,style:{text:'g kg\u207b\u00b9',font:'21px "DejaVu Sans"',fill:'#111',textAlign:'center',textVerticalAlign:'middle'}});
}
colorbar(4,15,946,517,27,barTicksA,barColorsA,1,.4,285,1012);
colorbar(5,584,950,425,23,barTicksB,barColorsB,3,.7,808,1010);

const chart=echarts.init(document.getElementById('c'),null,{renderer:'canvas'});
chart.setOption({animation:false,backgroundColor:'#fff',grid,xAxis,yAxis,series,graphic:{elements:graphic}});
</script></body></html>
